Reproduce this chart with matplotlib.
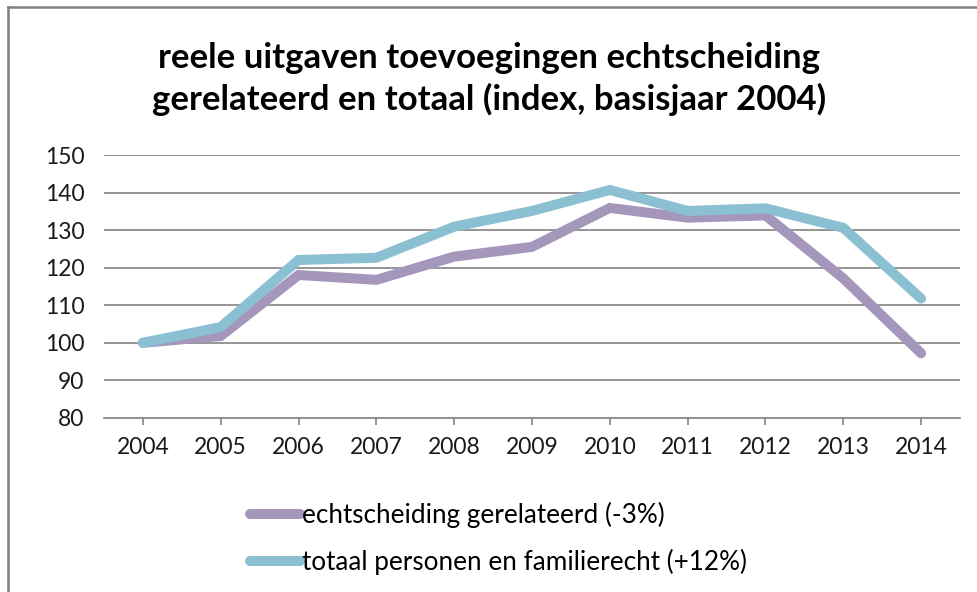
import matplotlib.pyplot as plt
from matplotlib.lines import Line2D

years = ["2004", "2005", "2006", "2007", "2008", "2009",
         "2010", "2011", "2012", "2013", "2014"]
echtscheiding = [100, 101.8, 118.1, 116.8, 123.0, 125.6, 136.0, 133.4, 134.0, 117.2, 97.2]
totaal = [100, 104.2, 122.1, 122.7, 131.0, 135.2, 140.8, 135.2, 135.9, 130.7, 111.8]
yticks = [80, 90, 100, 110, 120, 130, 140, 150]

title = "reele uitgaven toevoegingen echtscheiding\ngerelateerd en totaal (index, basisjaar 2004)"
lab_echt = "echtscheiding gerelateerd (-3%)"
lab_tot = "totaal personen en familierecht (+12%)"

purple = "#A597BC"
blue = "#8BC0D3"

plt.rcParams["font.family"] = ["Lato", "DejaVu Sans"]

fig = plt.figure(figsize=(9.78, 5.92), dpi=100)
ax = fig.add_axes([104 / 978, 1 - 417.7 / 592, (960 - 104) / 978, (417.7 - 155.5) / 592])

x = list(range(len(years)))
ax.plot(x, echtscheiding, color=purple, lw=7.2, solid_capstyle="round",
        solid_joinstyle="miter", label=lab_echt, zorder=3)
ax.plot(x, totaal, color=blue, lw=7.2, solid_capstyle="round",
        solid_joinstyle="miter", label=lab_tot, zorder=4)

ax.set_xlim(-0.5, len(years) - 0.5)
ax.set_ylim(80, 150)
ax.set_yticks(yticks)
ax.set_xticks(x)
ax.set_xticklabels(years)
ax.grid(axis="y", color="#8c8c8c", lw=1.3)
ax.set_axisbelow(True)
for s in ["top", "right", "left"]:
    ax.spines[s].set_visible(False)
ax.spines["bottom"].set_color("#8c8c8c")
ax.spines["bottom"].set_linewidth(1.3)
ax.tick_params(axis="y", length=0, pad=14, labelsize=16.5, labelcolor="#1a1a1a")
ax.tick_params(axis="x", length=5, width=1.3, color="#8c8c8c", pad=9,
               labelsize=16.5, labelcolor="#1a1a1a")

fig.text(0.5, 1 - 79 / 592, title, ha="center", va="center", fontsize=25,
         fontweight="bold", linespacing=1.3, color="black")

ax.legend(loc="upper left", bbox_to_anchor=(250 / 978, 1 - 502 / 592),
          bbox_transform=fig.transFigure, frameon=False, fontsize=18.8,
          handlelength=1.92, handletextpad=0.08, labelspacing=0.8,
          borderaxespad=0, borderpad=0)

fig.add_artist(Line2D([8 / 978, 8 / 978], [0, 1 - 7 / 592], transform=fig.transFigure,
                      color="#808080", lw=1.8))
fig.add_artist(Line2D([8 / 978, 1], [1 - 7 / 592, 1 - 7 / 592], transform=fig.transFigure,
                      color="#808080", lw=1.8))

fig.savefig("out.png", dpi=100)
